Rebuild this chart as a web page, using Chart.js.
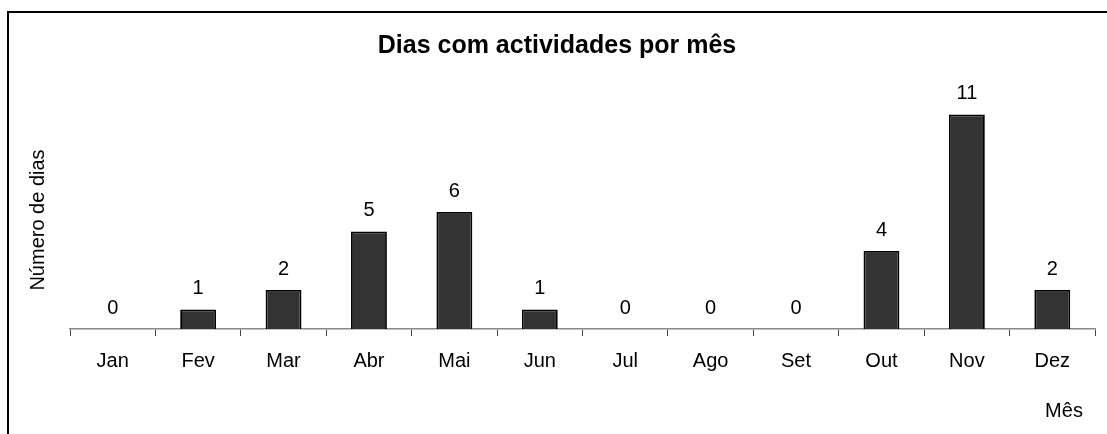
<!DOCTYPE html>
<html>
<head>
<meta charset="utf-8">
<script src="https://cdn.jsdelivr.net/npm/chart.js@4"></script>
<style>
  html, body { margin: 0; padding: 0; background: #fff; }
  #wrap { position: relative; width: 1107px; height: 434px; }
  #frame { position: absolute; left: 7px; top: 11px; right: -5px; bottom: -5px; border-top: 2px solid #000; border-left: 2px solid #000; pointer-events: none; }
</style>
</head>
<body>
<div id="wrap">
  <canvas id="chart" width="1107" height="434"></canvas>
  <div id="frame"></div>
</div>
<script>
// Data
const months = ['Jan', 'Fev', 'Mar', 'Abr', 'Mai', 'Jun', 'Jul', 'Ago', 'Set', 'Out', 'Nov', 'Dez'];
const days = [0, 1, 2, 5, 6, 1, 0, 0, 0, 4, 11, 2];

const FONT = '"Liberation Sans", Arial, sans-serif';

// Labels above bars, titles drawn by hand
const textPlugin = {
    id: 'textPlugin',
    afterDatasetsDraw(chart) {
        const ctx = chart.ctx;
        const meta = chart.getDatasetMeta(0);
        ctx.save();
        ctx.fillStyle = '#000';
        ctx.textAlign = 'center';
        ctx.textBaseline = 'middle';
        ctx.font = '20px ' + FONT;
        meta.data.forEach((bar, i) => {
            ctx.fillText(String(days[i]), bar.x, bar.y - 21);
        });

        ctx.font = 'bold 25px ' + FONT;
        ctx.fillText('Dias com actividades por mês', 557, 46);

        ctx.font = '20px ' + FONT;
        ctx.fillText('Mês', 1064, 411);

        ctx.translate(38, 220);
        ctx.rotate(-Math.PI / 2);
        ctx.fillText('Número de dias', 0, 0);
        ctx.restore();
    }
};

const chart = new Chart(document.getElementById('chart'), {
    type: 'bar',
    data: {
        labels: months,
        datasets: [{
            data: days,
            backgroundColor: '#333333',
            borderColor: '#000000',
            borderWidth: 1.8,
            categoryPercentage: 1,
            barPercentage: 0.42
        }]
    },
    options: {
        responsive: false,
        animation: false,
        layout: { padding: { left: 70, right: 12, top: 95, bottom: 48 } },
        plugins: {
            legend: { display: false },
            tooltip: { enabled: false }
        },
        scales: {
            x: {
                grid: {
                    offset: true,
                    drawOnChartArea: false,
                    drawTicks: true,
                    tickLength: 7,
                    color: '#444'
                },
                border: { color: '#888', width: 1.5 },
                ticks: {
                    color: '#000',
                    padding: 13,
                    font: { family: FONT, size: 20 },
                    maxRotation: 0
                }
            },
            y: {
                display: false,
                min: 0,
                max: 12
            }
        }
    },
    plugins: [textPlugin]
});
</script>
</body>
</html>
